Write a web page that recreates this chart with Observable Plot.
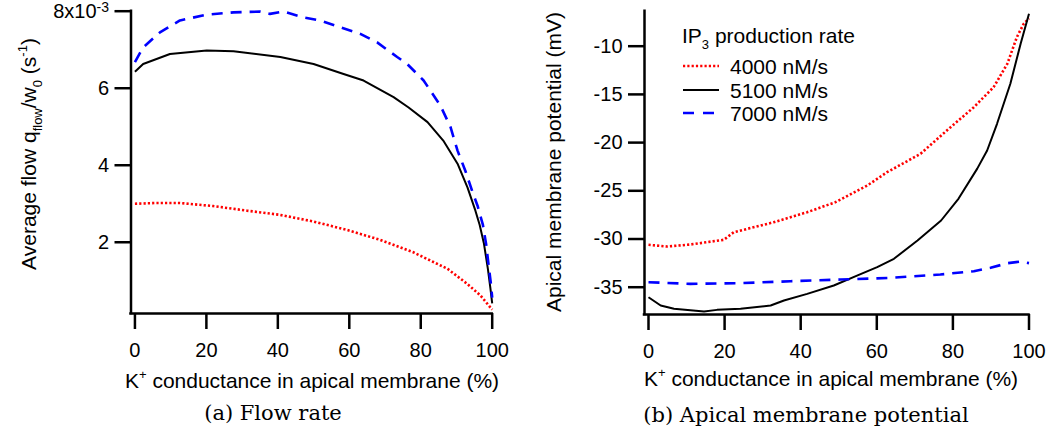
<!DOCTYPE html>
<html><head><meta charset="utf-8">
<script src="https://cdn.jsdelivr.net/npm/d3@7"></script>
<script src="https://cdn.jsdelivr.net/npm/@observablehq/plot@0.6"></script>
<style>
body{margin:0;background:#fff;}
#root{position:relative;width:1050px;height:432px;overflow:hidden;font-family:"Liberation Sans",Arial,sans-serif;color:#000;}
.abs{position:absolute;white-space:nowrap;line-height:21px;font-size:21px;}
.sup{font-size:13px;position:relative;top:-9px;line-height:0;}
.sub{font-size:13px;position:relative;top:6px;line-height:0;}
.cap{font-family:"DejaVu Serif","Liberation Serif",serif;font-size:21px;line-height:22px;}
svg{overflow:visible;}
#root svg text{font-size:20px;}
</style></head><body><div id="root"></div>
<script>
// ---- data: left panel, average flow (x10^-3 s^-1) vs K+ conductance (%) ----
const flowX4000 = [0, 6, 12.6, 21.9, 31.4, 40.7, 49.9, 59.4, 68.7, 77.9, 87.5, 93, 96.7, 100];
const flowY4000 = [3.00, 3.02, 3.02, 2.94, 2.82, 2.71, 2.54, 2.32, 2.06, 1.74, 1.31, 0.92, 0.62, 0.25];
const flowX5100 = [0, 2.3, 9.8, 20.1, 27.6, 40.7, 50, 58.4, 64, 72.4, 76.6, 81.9, 86.3, 90.3, 93.1, 95.3, 96.5, 97.7, 98.8, 99.5, 100];
const flowY5100 = [6.43, 6.63, 6.89, 6.98, 6.96, 6.81, 6.63, 6.37, 6.2, 5.77, 5.5, 5.12, 4.64, 4.04, 3.42, 2.82, 2.45, 1.96, 1.3, 0.8, 0.41];
const flowX7000 = [0, 2.3, 7, 12.6, 20.1, 27.6, 35, 37.8, 41.6, 47.2, 51.9, 57.5, 63.1, 67.8, 73.4, 76.2, 80.8, 85.5, 88.3, 90.3, 92.5, 94.5, 95.9, 97.4, 98.3, 99, 99.6, 100];
const flowY7000 = [6.68, 7.06, 7.45, 7.76, 7.91, 7.97, 7.99, 7.93, 7.99, 7.84, 7.76, 7.58, 7.41, 7.19, 6.81, 6.63, 6.2, 5.55, 5.0, 4.38, 3.85, 3.3, 2.95, 2.45, 1.95, 1.4, 0.95, 0.56];

// ---- data: right panel, apical membrane potential (mV) ----
const potX4000 = [0, 4.9, 11, 19.8, 22.4, 32.9, 41.7, 49, 57.5, 60.1, 62.7, 71.5, 79.4, 85.5, 90.7, 94.3, 96.8, 98.6, 100];
const potY4000 = [-30.6, -30.78, -30.57, -30.08, -29.3, -28.26, -27.22, -26.2, -24.45, -23.76, -23.07, -21.16, -18.4, -16.33, -14.25, -11.83, -9.07, -7.68, -7.1];
const potX5100 = [0, 3.2, 6.7, 14.6, 18, 24.2, 32.1, 35.6, 41.7, 48.7, 54.8, 60.1, 64.5, 70.7, 76.9, 81.5, 86.4, 89, 91.6, 95.1, 97.8, 100];
const potY5100 = [-36.04, -36.9, -37.24, -37.52, -37.35, -37.24, -36.9, -36.38, -35.69, -34.82, -33.79, -32.92, -32.05, -30.16, -28.08, -25.8, -22.7, -20.82, -18.05, -13.9, -9.75, -6.64];
const potX7000 = [0, 11, 24.2, 37.3, 50.5, 63.6, 76.7, 85.5, 89.9, 94.3, 97.8, 100];
const potY7000 = [-34.48, -34.65, -34.58, -34.38, -34.2, -34.03, -33.68, -33.34, -32.99, -32.51, -32.33, -32.5];

const seriesNames = ["4000 nM/s", "5100 nM/s", "7000 nM/s"];
const seriesColors = ["#ff0000", "#000000", "#0000ff"];
const seriesDash = ["2.2,2.1", null, "11,8"];
const seriesWidth = [2.6, 2, 2.6];

const xTicks = [0, 20, 40, 60, 80, 100];
const flowTicks = [2, 4, 6, 8];
const potTicks = [-35, -30, -25, -20, -15, -10];
const xDomainL = [-1.1, 100];
const xDomainR = [-1.05, 100];
const flowDomain = [0.15, 8];
const potDomain = [-37.83, -6.37];

const xTitle = 'K<span class="sup">+</span> conductance in apical membrane (%)';

function toRows(xs, ys) { return xs.map((x, i) => ({x, y: ys[i]})); }
const flowSeries = [toRows(flowX4000, flowY4000), toRows(flowX5100, flowY5100), toRows(flowX7000, flowY7000)];
const potSeries = [toRows(potX4000, potY4000), toRows(potX5100, potY5100), toRows(potX7000, potY7000)];

function lineMarks(series) {
  return series.map((rows, i) => Plot.line(rows, {
    x: "x", y: "y", stroke: seriesColors[i], strokeWidth: seriesWidth[i],
    strokeDasharray: seriesDash[i] || undefined, curve: "linear",
    strokeLinecap: "butt", strokeLinejoin: "round"
  }));
}

const font = '"Liberation Sans", Arial, sans-serif';
const H = 372;

const left = Plot.plot({
  width: 520, height: H,
  marginLeft: 130.5, marginRight: 520 - 491.7, marginTop: 10.7, marginBottom: H - 313,
  style: {fontFamily: font, fontSize: "20px", background: "transparent", overflow: "visible"},
  x: {domain: xDomainL},
  y: {domain: flowDomain},
  marks: [
    Plot.axisX({ticks: xTicks, tickSize: 16, tickPadding: 13, label: null, strokeWidth: 2.5}),
    Plot.axisY({ticks: flowTicks, tickSize: 16, tickPadding: 6, label: null, strokeWidth: 2.5,
      tickFormat: d => d === 8 ? "8x10" : String(d)}),
    ...lineMarks(flowSeries),
    Plot.ruleY([flowDomain[0]], {strokeWidth: 2.5, strokeLinecap: "square"}),
    Plot.ruleX([xDomainL[0]], {strokeWidth: 2.5, strokeLinecap: "square"})
  ]
});

const right = Plot.plot({
  width: 530, height: H,
  marginLeft: 124, marginRight: 530 - 508.5, marginTop: 10.7, marginBottom: H - 314,
  style: {fontFamily: font, fontSize: "20px", background: "transparent", overflow: "visible"},
  x: {domain: xDomainR},
  y: {domain: potDomain},
  marks: [
    Plot.axisX({ticks: xTicks, tickSize: 16, tickPadding: 13, label: null, strokeWidth: 2.5}),
    Plot.axisY({ticks: potTicks, tickSize: 16, tickPadding: 6, label: null, strokeWidth: 2.5,
      tickFormat: d => String(d)}),
    ...lineMarks(potSeries),
    Plot.ruleY([potDomain[0]], {strokeWidth: 2.5, strokeLinecap: "square"}),
    Plot.ruleX([xDomainR[0]], {strokeWidth: 2.5, strokeLinecap: "square"})
  ]
});

const root = document.getElementById("root");
left.style.position = "absolute"; left.style.left = "0px"; left.style.top = "0px";
right.style.position = "absolute"; right.style.left = "520px"; right.style.top = "0px";
root.appendChild(left);
root.appendChild(right);

// superscript exponent on the top tick of the left axis
left.querySelectorAll("text").forEach(t => {
  if (t.textContent === "8x10") {
    const ts = document.createElementNS("http://www.w3.org/2000/svg", "tspan");
    ts.setAttribute("dy", "-0.4em");
    ts.setAttribute("font-size", "14");
    ts.textContent = "-3";
    t.appendChild(ts);
  }
});

function addDiv(html, cls, styles) {
  const d = document.createElement("div");
  d.className = "abs " + (cls || "");
  d.innerHTML = html;
  Object.assign(d.style, styles);
  root.appendChild(d);
  return d;
}
// y-axis titles (rotated)
addDiv('Average flow q<span class="sub">flow</span>/w<span class="sub">0</span> (s<span class="sup">-1</span>)', "",
  {left: "28px", top: "154px", transform: "translate(-50%,-50%) rotate(-90deg)"});
addDiv('Apical membrane potential (mV)', "",
  {left: "553px", top: "162px", transform: "translate(-50%,-50%) rotate(-90deg)"});
// x-axis titles
addDiv(xTitle, "", {left: "312px", top: "380px", transform: "translate(-50%,-50%)"});
addDiv(xTitle, "", {left: "831px", top: "378px", transform: "translate(-50%,-50%)"});
// captions
addDiv("(a) Flow rate", "cap", {left: "273px", top: "413px", transform: "translate(-50%,-50%)"});
addDiv("(b) Apical membrane potential", "cap", {left: "806px", top: "415px", transform: "translate(-50%,-50%)"});

// legend
addDiv('IP<span class="sub">3</span> production rate', "", {left: "682px", top: "25px"});
const rowBase = [73, 96.7, 120];
seriesNames.forEach((name, i) => {
  addDiv(name, "", {left: "730px", top: (rowBase[i] - 17) + "px"});
  const sw = document.createElementNS("http://www.w3.org/2000/svg", "svg");
  sw.setAttribute("width", "40"); sw.setAttribute("height", "8");
  Object.assign(sw.style, {position: "absolute", left: "683px", top: (rowBase[i] - 6.8 - 4) + "px"});
  const ln = document.createElementNS("http://www.w3.org/2000/svg", "line");
  ln.setAttribute("x1", "0"); ln.setAttribute("x2", i === 2 ? "31" : "36");
  ln.setAttribute("y1", "4"); ln.setAttribute("y2", "4");
  ln.setAttribute("stroke", seriesColors[i]);
  ln.setAttribute("stroke-width", seriesWidth[i]);
  if (seriesDash[i]) ln.setAttribute("stroke-dasharray", i === 2 ? "11,9" : seriesDash[i]);
  sw.appendChild(ln);
  root.appendChild(sw);
});
</script>
</body></html>
